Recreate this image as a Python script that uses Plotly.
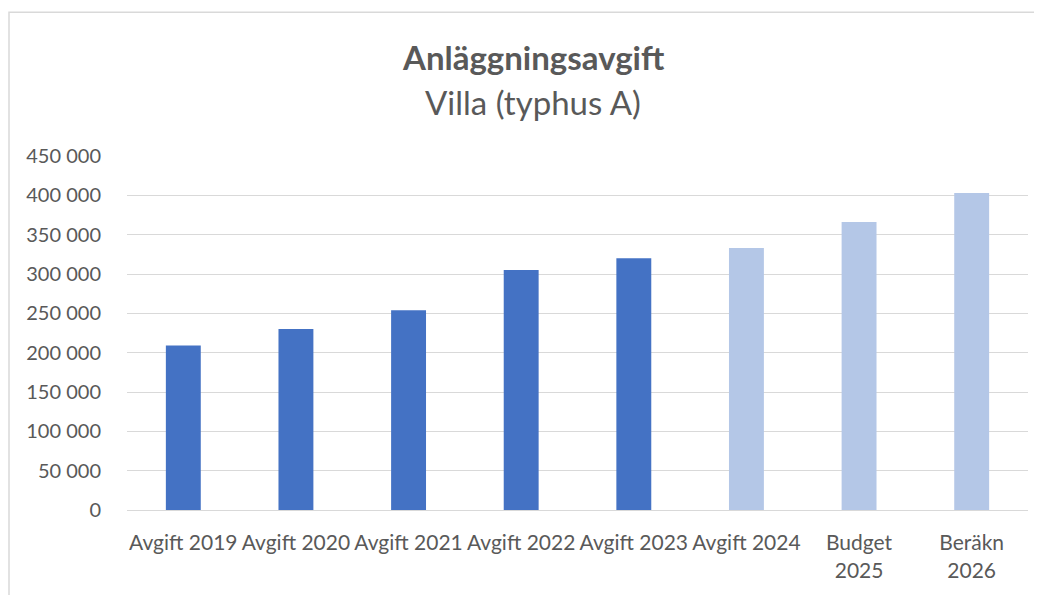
import plotly.graph_objects as go

categories = ["Avgift 2019", "Avgift 2020", "Avgift 2021", "Avgift 2022",
              "Avgift 2023", "Avgift 2024", "Budget 2025", "Beräkn 2026"]
tick_labels = ["Avgift 2019", "Avgift 2020", "Avgift 2021", "Avgift 2022",
               "Avgift 2023", "Avgift 2024", "Budget<br>2025", "Beräkn<br>2026"]
values = [209000, 230000, 254000, 305000, 320000, 333000, 366000, 403000]
bar_colors = ["#4472C4"] * 5 + ["#B4C7E7"] * 3
y_ticks = list(range(0, 450001, 50000))
y_tick_labels = [f"{v:,}".replace(",", " ") for v in y_ticks]

# the page body has an 8px margin, so the figure is drawn 8px smaller and offset
OFF = 8
W, H = 1042 - OFF, 595 - OFF
L, T = 127 - OFF, 156 - OFF
R = W - (1028 - OFF)
B = H - (510.5 - OFF)
pw, ph = W - L - R, H - T - B

fig = go.Figure(go.Bar(x=categories, y=values, marker=dict(color=bar_colors, line=dict(width=0)),
                       hoverinfo="x+y"))

font = "Lato, 'Open Sans', sans-serif"
txt = "#595959"

def px_y(y):
    return (H - B - (y - OFF)) / ph

def px_x(x):
    return ((x - OFF) - L) / pw

fig.update_layout(
    width=W, height=H,
    margin=dict(l=L, r=R, t=T, b=B, autoexpand=False),
    paper_bgcolor="white", plot_bgcolor="white",
    bargap=0.69,
    showlegend=False,
    font=dict(family=font, color=txt, size=20),
    xaxis=dict(tickmode="array", tickvals=categories, ticktext=tick_labels,
               showgrid=False, showline=True, linecolor="#d9d9d9", linewidth=1,
               ticks="", tickfont=dict(size=21, color=txt), ticklabelstandoff=14,
               tickangle=0),
    yaxis=dict(range=[0, 450000], tickmode="array", tickvals=y_ticks, ticktext=y_tick_labels,
               showgrid=True, gridcolor="#d9d9d9", gridwidth=1.3, zeroline=False,
               showline=False, ticks="", tickfont=dict(size=20, color=txt),
               ticklabelstandoff=25),
    annotations=[
        dict(text="<b>Anläggningsavgift</b>", xref="paper", yref="paper",
             x=px_x(533), y=px_y(57), xanchor="center", yanchor="middle",
             showarrow=False, font=dict(size=33, color=txt, family=font)),
        dict(text="Villa (typhus A)", xref="paper", yref="paper",
             x=px_x(533), y=px_y(102), xanchor="center", yanchor="middle",
             showarrow=False, font=dict(size=33, color=txt, family=font)),
    ],
    shapes=[
        dict(type="rect", xref="paper", yref="paper",
             x0=px_x(9), x1=px_x(1080),
             y0=px_y(640), y1=px_y(12),
             line=dict(color="#d9d9d9", width=1.5), fillcolor="rgba(0,0,0,0)", layer="below"),
    ],
)

fig.write_html("out.html")
